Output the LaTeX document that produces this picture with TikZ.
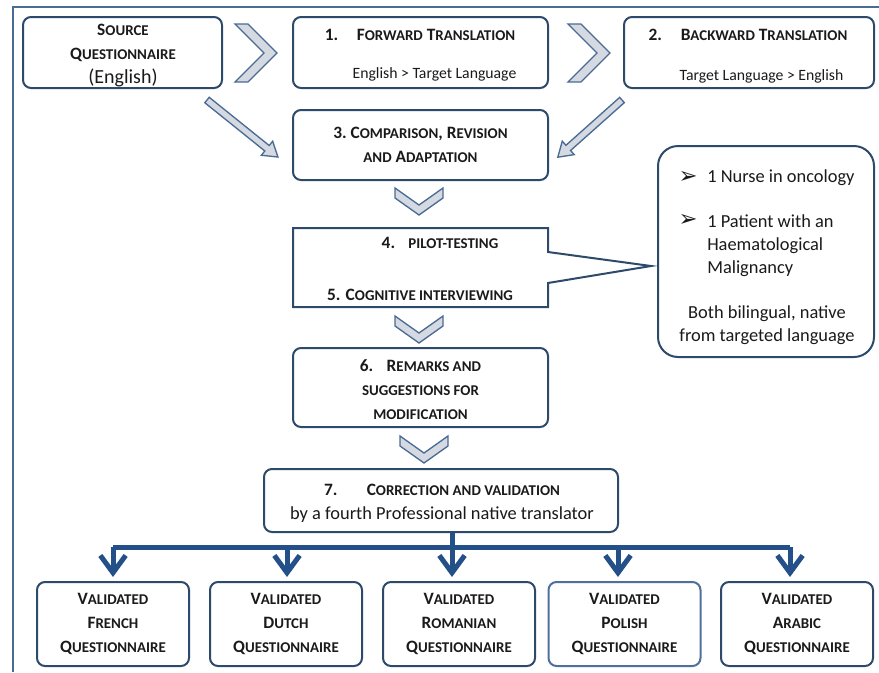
\documentclass[tikz,border=0pt]{standalone}
\usepackage{fontspec}
\setmainfont{Carlito}
\newfontfamily\symfont{DejaVu Sans}
\usetikzlibrary{arrows.meta}

\definecolor{boxline}{HTML}{2E4A6B}
\definecolor{polishline}{HTML}{4F6F9C}
\definecolor{frameline}{HTML}{4A6B96}
\definecolor{chevfill}{HTML}{D5D9E1}
\definecolor{chevline}{HTML}{4A6B94}
\definecolor{busblue}{HTML}{24508A}
\definecolor{textcol}{HTML}{1A1A1A}

\newcommand\hd{\bfseries\fontsize{13}{18}\selectfont}
\newcommand\lc[1]{{\fontsize{11.2}{18}\selectfont #1}}
\newcommand\bd{\fontsize{11.8}{18}\selectfont}
\newcommand\nf{\fontsize{13.8}{17.5}\selectfont}
\newcommand\bul{\symfont\fontsize{17}{18}\selectfont}

\tikzset{
  box/.style 2 args={draw=boxline, line width=1.5pt, rounded corners=6pt, fill=white,
    inner sep=0pt, minimum width=#1*0.75pt, minimum height=#2*0.75pt,
    align=center, text=textcol, font=\hd},
  txt/.style={inner sep=0pt, text=textcol, align=center},
  chev/.style={fill=chevfill, draw=chevline, line width=1pt, line join=miter},
  bus/.style={draw=busblue, line width=3.75pt},
  busarrow/.style={bus, -{Straight Barb[length=13pt,width=19pt]}, shorten >=3pt}
}

% chevron pointing right, top left corner at (#1,#2)
\newcommand\rightchev[2]{\draw[chev] (#1,#2) -- ({#1+13},#2) -- ({#1+42},{#2+29}) -- ({#1+13},{#2+58}) -- (#1,{#2+58}) -- ({#1+29},{#2+29}) -- cycle;}
% chevron pointing down, centre x #1, top #2
\newcommand\downchev[2]{\draw[chev] ({#1-24},#2) -- (#1,{#2+17}) -- ({#1+24},#2) -- ({#1+24},{#2+10}) -- (#1,{#2+27}) -- ({#1-24},{#2+10}) -- cycle;}
% hollow block arrow: start, angle, length
\newcommand\hollowarrow[3]{\draw[chev, shift={#1}, rotate=#2] (0,-3.5) -- ({#3-14},-3.5) -- ({#3-14},-9) -- (#3,0) -- ({#3-14},9) -- ({#3-14},3.5) -- (0,3.5) -- cycle;}

\begin{document}
\begin{tikzpicture}[x=0.75pt,y=-0.75pt]
\useasboundingbox (0,0) rectangle (879,672);

\draw[frameline, line width=1.5pt] (13,672) -- (13,7) -- (879,7);

% top row
\node[box={199}{71}] (src) at (122.5,52.5) {};
\node[txt, font=\hd] (srctext) at (123,56) {S\lc{OURCE}\\Q\lc{UESTIONNAIRE}\\\mdseries\fontsize{15}{18}\selectfont(English)};
\node[box={255}{71}] (fwd) at (420.5,52.5) {};
\node[txt, font=\hd] (fwdtitle) at (420,35) {1.\hspace{14pt}F\lc{ORWARD} T\lc{RANSLATION}};
\node[txt, font=\bd] (fwdsub) at (434.5,74) {English > Target Language};
\node[box={250}{71}] (bwd) at (749,52.5) {};
\node[txt, font=\hd] (bwdtitle) at (748,35) {2.\hspace{14pt}B\lc{ACKWARD} T\lc{RANSLATION}};
\node[txt, font=\bd] (bwdsub) at (761.5,76) {Target Language > English};

\rightchev{235}{24}
\rightchev{568}{24}
\hollowarrow{(207,100)}{-38.8}{91}
\hollowarrow{(622,100)}{-138.3}{86}

\node[box={255}{70}] (cmp) at (420.5,145) {3.\ C\lc{OMPARISON}, R\lc{EVISION}\\\lc{AND} A\lc{DAPTATION}};

\downchev{419}{188}

% pilot box with callout
\coordinate (tip) at (651,266);
\draw[boxline, line width=1.5pt, fill=white, line join=miter] (293,228) -- (548,228) -- (548,252) -- (tip) -- (548,283) -- (548,307) -- (293,307) -- cycle;
\node[txt, font=\hd] (pilot) at (440,243) {4.\hspace{10pt}\lc{PILOT-TESTING}};
\node[txt, font=\hd] (cogn) at (420,295) {5. C\lc{OGNITIVE INTERVIEWING}};

\node[box={216}{211}, rounded corners=15pt] (info) at (766,251.5) {};
\node[txt, font=\bul] (bul1) at (688,177) {➢};
\node[txt, font=\nf, anchor=west] (nurse) at (707,178) {1 Nurse in oncology};
\node[txt, font=\bul] (bul2) at (688,220) {➢};
\node[txt, font=\nf, anchor=north west, align=left] (patient) at (707,214) {1 Patient with an\\Haematological\\Malignancy};
\node[txt, font=\nf] (both) at (767,325) {Both bilingual, native\\from targeted language};

\downchev{419}{316}

\node[box={255}{79}] (rem) at (420.5,387.5) {};
\node[txt, font=\hd] (remtext) at (420.5,390) {6.\hspace{10pt}R\lc{EMARKS AND}\\\lc{SUGGESTIONS FOR}\\\lc{MODIFICATION}};

\downchev{424}{436}

\node[box={354}{63}] (corr) at (441,500.5) {};
\node[txt, font=\hd] (corrtext) at (442,503) {7.\hspace{22pt}C\lc{ORRECTION AND VALIDATION}\\\mdseries\fontsize{13.8}{17}\selectfont by a fourth Professional native translator};

% validated questionnaires
\node[box={152}{84}] (fr) at (113,624) {V\lc{ALIDATED}\\F\lc{RENCH}\\Q\lc{UESTIONNAIRE}};
\node[box={152}{84}] (nl) at (286,624) {V\lc{ALIDATED}\\D\lc{UTCH}\\Q\lc{UESTIONNAIRE}};
\node[box={152}{84}] (ro) at (459,624) {V\lc{ALIDATED}\\R\lc{OMANIAN}\\Q\lc{UESTIONNAIRE}};
\node[box={152}{84}, draw=polishline] (pl) at (624.5,624) {V\lc{ALIDATED}\\P\lc{OLISH}\\Q\lc{UESTIONNAIRE}};
\node[box={152}{84}] (ar) at (797,624) {V\lc{ALIDATED}\\A\lc{RABIC}\\Q\lc{UESTIONNAIRE}};

\coordinate (b1) at (113,547);
\coordinate (b2) at (287,547);
\coordinate (b3) at (452,547);
\coordinate (b4) at (618,547);
\coordinate (b5) at (790,547);

\draw[bus] (b3 |- corr.south) -- (b3);
\draw[bus] (b1) -- (b5);
\draw[busarrow] (b1) -- (b1 |- fr.north);
\draw[busarrow] (b2) -- (b2 |- nl.north);
\draw[busarrow] (b3) -- (b3 |- ro.north);
\draw[busarrow] (b4) -- (b4 |- pl.north);
\draw[busarrow] (b5) -- (b5 |- ar.north);

\end{tikzpicture}
\end{document}
